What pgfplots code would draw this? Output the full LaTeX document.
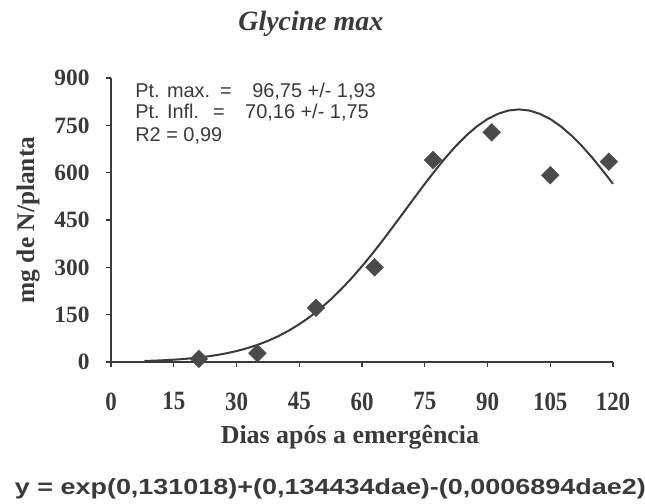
\documentclass[border=0pt]{standalone}
\usepackage{fontspec}
\setmainfont{Liberation Serif}
\newfontfamily\arial{Liberation Sans}
\usepackage{pgfplots}
\pgfplotsset{compat=1.18}
\definecolor{ink}{HTML}{3A3A3A}
\definecolor{markc}{HTML}{4A4A4A}
\pgfplotstableread{
dae y
21 10
35 28
49 172
63 300
77 640
91 728
105 592
119 635
}\obs
\pgfplotstableread{
dae y
8 3.3
10 4.1
12.5 5.5
15 7.3
17.5 9.7
20 12.7
22.5 16.6
25 21.4
27.5 27.3
30 34.6
32.5 43.5
35 54.1
37.5 66.8
40 81.9
42.5 99.4
45 119.6
47.5 142.6
50 168.9
52.5 197.8
55 230.3
57.5 265.4
60 303.5
62.5 343.6
65 386.3
67.5 430.4
70 475.1
72.5 520.1
75 564.4
77.5 607.2
80 648.0
82.5 685.4
85 718.6
87.5 747.1
90 769.9
92.5 786.5
95 796.9
97.5 800.4
100 796.9
102.5 786.5
105 770.0
107.5 747.1
110 718.6
112.5 685.4
115 648.0
117.5 607.2
120 564.5
}\fit
\begin{document}
\begin{tikzpicture}[x=1bp,y=1bp]
\useasboundingbox (0,0) rectangle (645,504);
\begin{axis}[
  at={(111bp,142bp)}, anchor=south west,
  scale only axis, width=502bp, height=284bp,
  xmin=0, xmax=120, ymin=0, ymax=900,
  axis x line*=bottom, axis y line*=left,
  xtick={0,15,...,120}, ytick={0,150,...,900},
  tick align=outside, major tick length=5bp,
  axis line style={line width=1.4bp, ink},
  every tick/.style={line width=1.4bp, ink},
  /pgf/number format/assume math mode=true,
  yticklabel style={font=\fontsize{23.5}{26}\selectfont\bfseries, text=ink},
  xticklabel style={font=\fontsize{23}{26}\selectfont\bfseries, text=ink},
  xticklabel={\scalebox{1}[1.15]{\pgfmathprintnumber{\tick}}},
  xticklabel shift=22bp,
  yticklabel shift=13bp,
  xlabel={Dias após a emergência},
  ylabel={mg de N/planta},
  every axis x label/.style={at={(axis description cs:0.476,-0.265)}, anchor=center, font=\fontsize{26}{30}\selectfont\bfseries, text=ink},
  every axis y label/.style={at={(axis description cs:-0.165,0.5)}, rotate=90, anchor=center, font=\fontsize{25.5}{30}\selectfont\bfseries, text=ink},
  title={\itshape Glycine max},
  every axis title/.style={at={(axis description cs:0.398,1.19)}, anchor=center, font=\fontsize{28}{32}\selectfont\bfseries, text=ink},
  clip=false,
]
\addplot[line width=2bp, ink, no marks] table[x=dae, y=y] {\fit};
\addplot[only marks, mark=square*, mark size=6.3bp, mark options={rotate=45, fill=markc, draw=markc}] table[x=dae, y=y] {\obs};
\tikzset{ann/.style={anchor=base west, font=\arial\fontsize{20}{24}\selectfont, text=ink, inner sep=0pt}}
\node[ann] at (axis description cs:0.048,0.933) {Pt. max.};
\node[ann] at (axis description cs:0.217,0.933) {=};
\node[ann] at (axis description cs:0.281,0.933) {96,75 +/- 1,93};
\node[ann] at (axis description cs:0.048,0.859) {Pt. Infl.};
\node[ann] at (axis description cs:0.203,0.859) {=};
\node[ann] at (axis description cs:0.267,0.859) {70,16 +/- 1,75};
\node[ann] at (axis description cs:0.048,0.778) {R2 = 0,99};
\node[anchor=base, font=\arial\fontsize{22}{26}\selectfont\bfseries, text=ink, inner sep=0pt] at (axis description cs:0.437,-0.465) {\scalebox{1.23}[1]{y = exp(0,131018)+(0,134434dae)-(0,0006894dae2)}};
\end{axis}
\end{tikzpicture}
\end{document}
